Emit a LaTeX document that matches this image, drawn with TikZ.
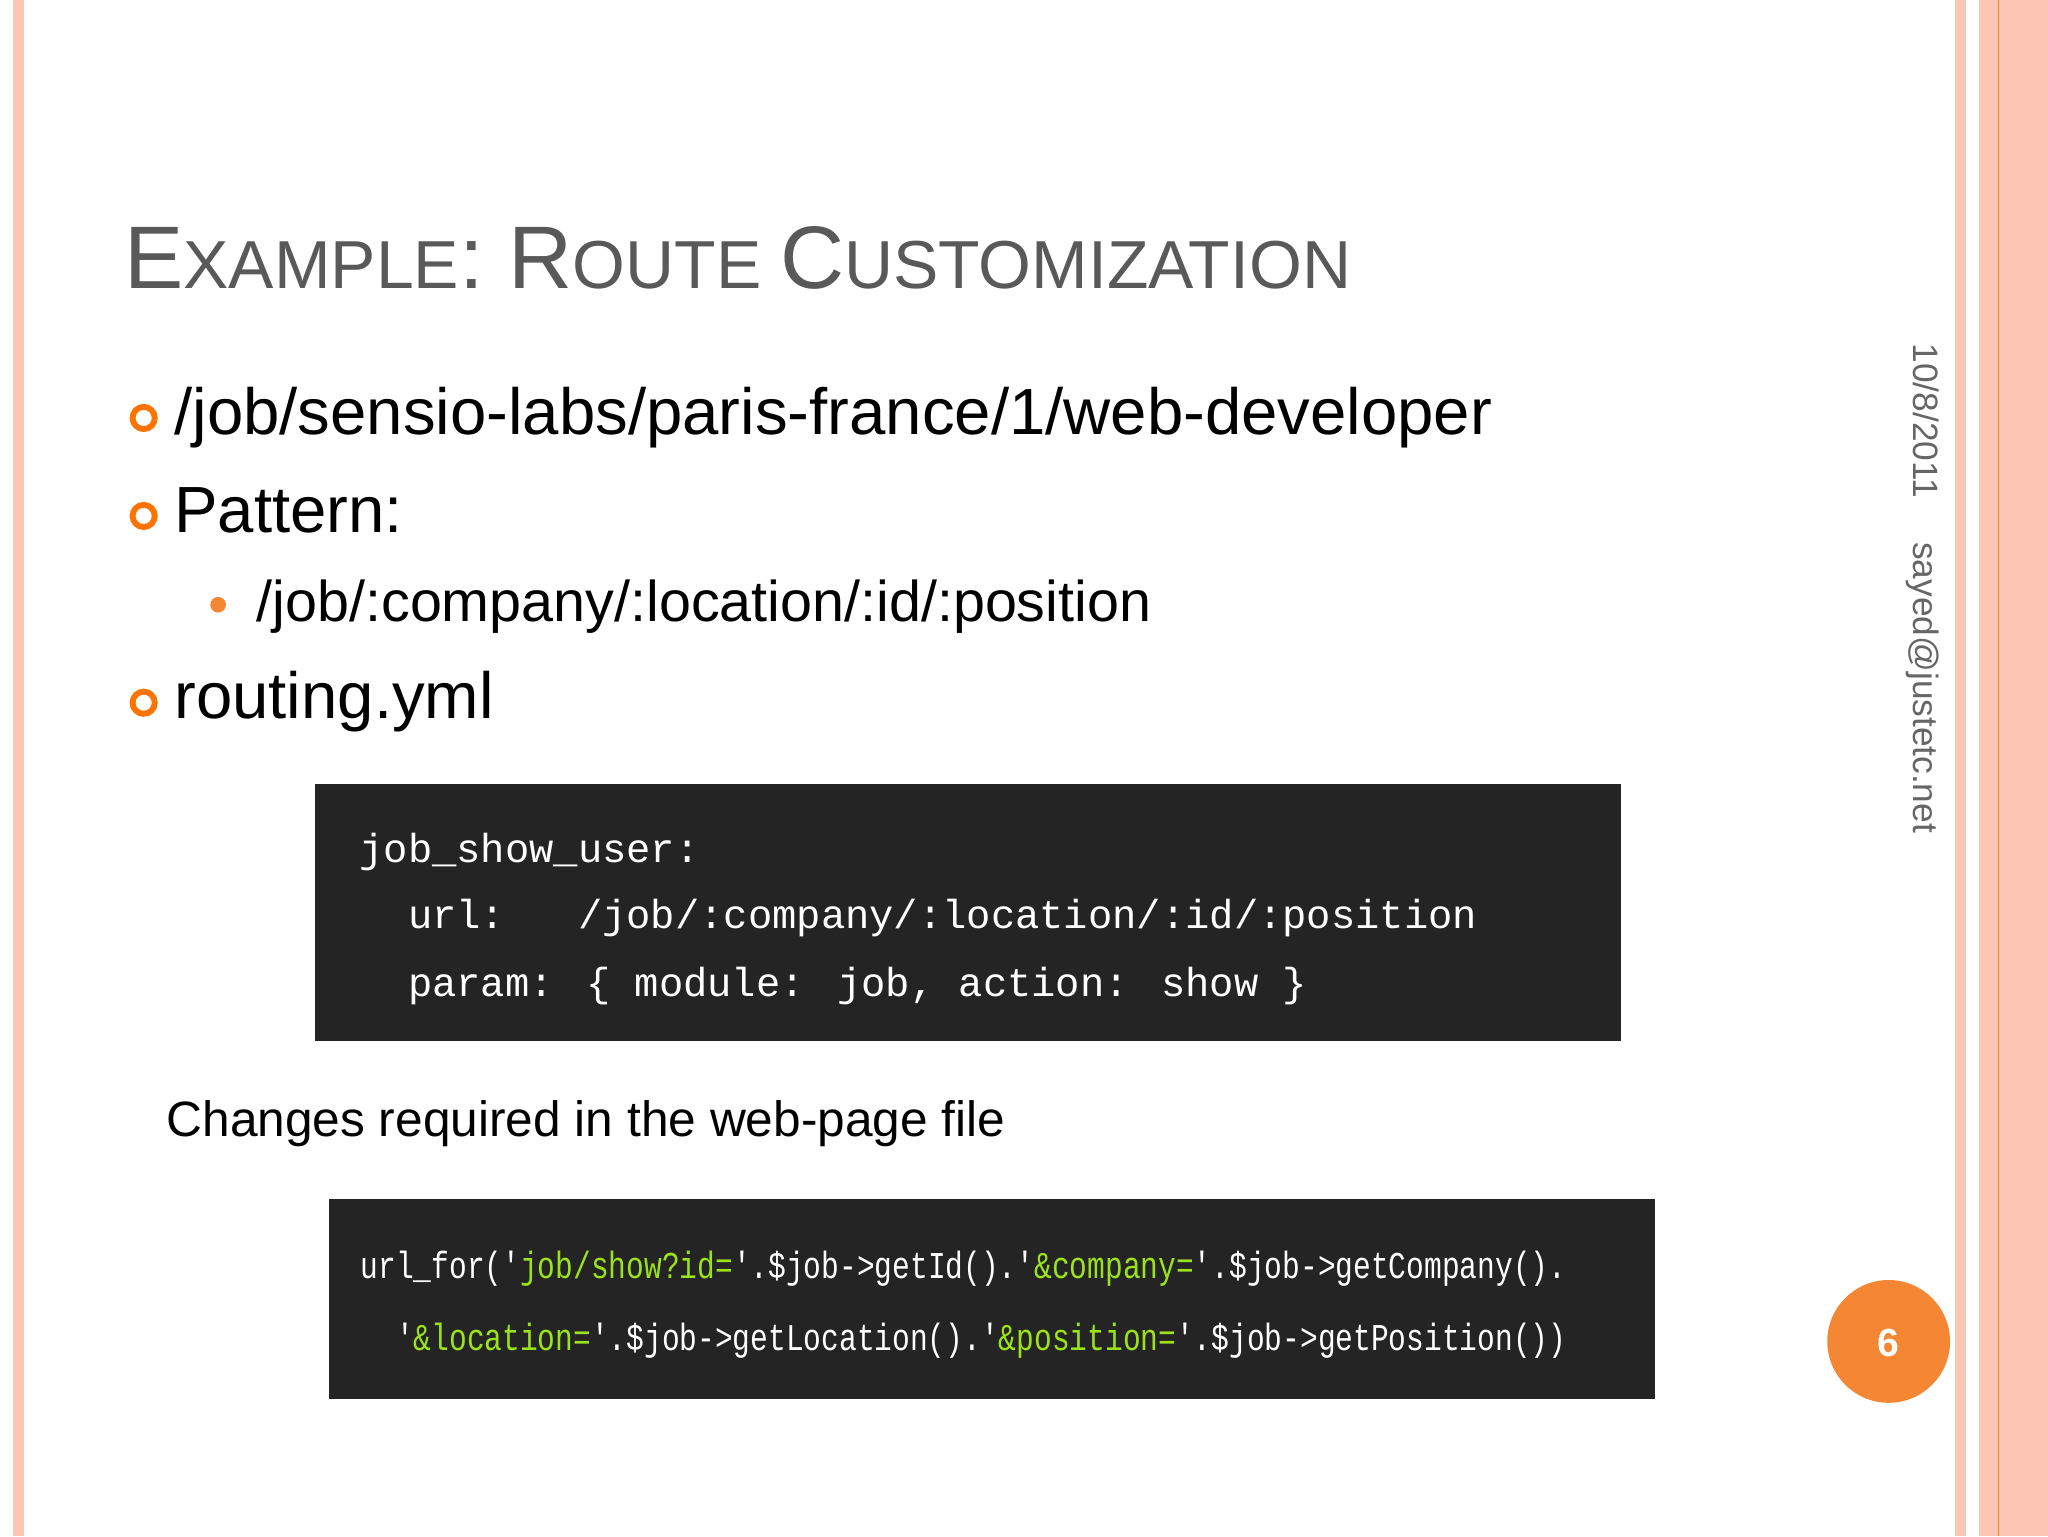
\documentclass[tikz,border=0pt]{standalone}
\usepackage{fontspec}
\setmainfont{Liberation Sans}
\newfontfamily\codefont{Liberation Mono}
\begin{document}
\begin{tikzpicture}[x=1pt,y=-1pt,
  ring/.style={circle,draw=orange!90!red,line width=4.5pt,minimum size=17pt,inner sep=0pt},
  btxt/.style={anchor=base west,font=\fontsize{50}{60}\selectfont},
  codebox/.style={fill=black!86,draw=none},
  codel/.style={anchor=base west,text=white,font=\codefont\fontsize{31}{36}\selectfont,inner sep=0pt},
  codec/.style={anchor=base west,text=white,font=\codefont\fontsize{29}{36}\selectfont,inner sep=0pt,xscale=0.78}]
\definecolor{pinkb}{HTML}{FBC6B4}
\definecolor{orng}{HTML}{F58634}
\definecolor{grn}{HTML}{9BE21A}
\useasboundingbox (0,0) rectangle (1568,1176);
\fill[white] (0,0) rectangle (1568,1176);
% borders
\fill[pinkb] (10,0) rectangle (18,1176);
\fill[pinkb] (1497,0) rectangle (1505,1176);
\fill[pinkb] (1515,0) rectangle (1568,1176);
\draw[orng,line width=1pt] (1530,0) -- (1530,1176);
% title
\node[anchor=base west,text=black!65,inner sep=0pt] (title) at (95,221)
  {\fontsize{68}{80}\selectfont E\fontsize{52}{60}\selectfont XAMPLE\fontsize{68}{80}\selectfont: R\fontsize{52}{60}\selectfont OUTE \fontsize{68}{80}\selectfont C\fontsize{52}{60}\selectfont USTOMIZATION};
% bullets
\node[ring] (r1) at (110,320) {};
\node[btxt] (t1) at (130,333) {/job/sensio-labs/paris-france/1/web-developer};
\node[ring] (r2) at (110,395) {};
\node[btxt] (t2) at (130,408) {Pattern:};
\fill[orng] (167,463) circle (6);
\node[anchor=base west,font=\fontsize{44}{52}\selectfont] (t3) at (193,476) {/job/:company/:location/:id/:position};
\node[ring] (r3) at (110,538) {};
\node[btxt] (t4) at (130,550) {routing.yml};
% code box 1
\fill[black!86] (241,600) rectangle (1241,797);
\node[codel] (c1) at (275,660) {job\_show\_user:};
\node[codel] (c2) at (275,711) {\ \ url:\ \ \ /job/:company/:location/:id/:position};
\node[codel] (c3) at (275,763) {\ \ param: \{ module: job, action: show \}};
% text
\node[anchor=base west,font=\fontsize{38}{46}\selectfont] (ch) at (124,870) {Changes required in the web-page file};
% code box 2
\fill[black!86] (252,918) rectangle (1267,1071);
\node[codec] (d1) at (276,979) {url\_for('\textcolor{grn}{job/show?id=}'.\$job->getId().'\textcolor{grn}{\&company=}'.\$job->getCompany().};
\node[codec] (d2) at (276,1034) {\ \ '\textcolor{grn}{\&location=}'.\$job->getLocation().'\textcolor{grn}{\&position=}'.\$job->getPosition())};
% page number
\fill[orng] (1446,1027) circle (47);
\node[text=white,font=\bfseries\fontsize{30}{36}\selectfont] (pn) at (1446,1028) {6};
% side texts
\node[rotate=-90,anchor=north west,text=black!60,font=\fontsize{27}{32}\selectfont,inner sep=0pt] (dt) at (1485,263) {10/8/2011};
\node[rotate=-90,anchor=north west,text=black!60,font=\fontsize{27}{32}\selectfont,inner sep=0pt] (em) at (1485,415) {sayed@justetc.net};
\end{tikzpicture}
\end{document}
